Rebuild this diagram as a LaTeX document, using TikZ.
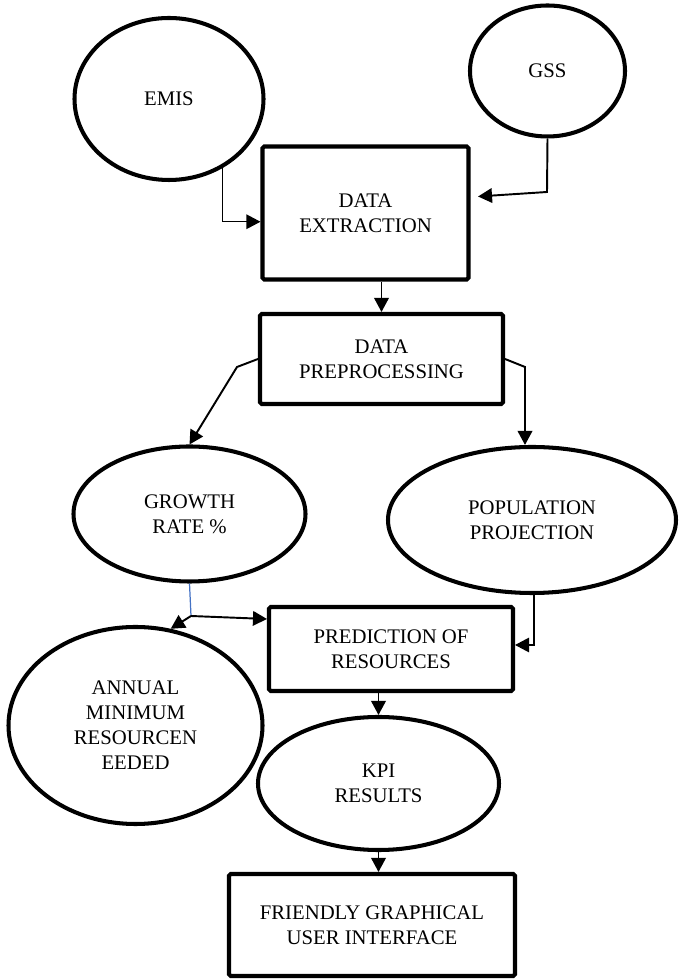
\documentclass[tikz,border=0pt]{standalone}
\usepackage{fontspec}
\setmainfont{Liberation Serif}
\usepackage{tikz}
\usetikzlibrary{arrows.meta, positioning, shapes.geometric}

\definecolor{tapblue}{RGB}{68,114,196}

\begin{document}
\begin{tikzpicture}[
    every node/.style={font=\fontsize{11.8}{14.2}\selectfont},
    procbox/.style={rectangle, draw, line width=2.3pt, rounded corners=1pt, inner sep=0pt, align=center},
    srcoval/.style={ellipse, draw, line width=2.3pt, inner sep=0pt, align=center},
    arrow/.style={-{Triangle[length=2.8mm, width=2.9mm]}, line width=1.1pt},
    tap/.style={draw=tapblue, line width=0.7pt}
]
\useasboundingbox (0,0) rectangle (13.56,19.6);

% ============ SOURCES ============
\node[srcoval, minimum width=3.78cm, minimum height=3.24cm] (emis) at (3.38, 17.62) {EMIS};
\node[srcoval, minimum width=3.10cm, minimum height=2.62cm] (gss) at (10.95, 18.18) {GSS};

% ============ EXTRACTION / PREPROCESSING ============
\node[procbox, minimum width=4.12cm, minimum height=2.66cm] (extract) at (7.31, 15.34) {DATA\\EXTRACTION};
\node[procbox, minimum width=4.86cm, minimum height=1.80cm] (preproc) at (7.63, 12.42) {DATA\\PREPROCESSING};

% ============ INTERMEDIATE RESULTS ============
\node[srcoval, minimum width=4.64cm, minimum height=2.70cm] (growth) at (3.79, 9.32) {GROWTH\\RATE \%};
\node[srcoval, minimum width=5.76cm, minimum height=2.92cm] (popul) at (10.64, 9.20) {POPULATION\\PROJECTION};

% ============ PREDICTION AND OUTPUTS ============
\node[procbox, minimum width=4.88cm, minimum height=1.68cm] (predict) at (7.82, 6.62) {PREDICTION OF\\RESOURCES};
\node[srcoval, minimum width=5.08cm, minimum height=3.94cm] (annual) at (2.71, 5.09) {ANNUAL\\MINIMUM\\RESOURCEN\\EEDED};
\node[srcoval, minimum width=4.82cm, minimum height=2.66cm] (kpi) at (7.57, 3.93) {KPI\\RESULTS};
\node[procbox, minimum width=5.72cm, minimum height=2.04cm] (gui) at (7.44, 1.10) {FRIENDLY GRAPHICAL\\USER INTERFACE};

% bend points
\coordinate (gssbend) at (10.94, 15.76);
\coordinate (lbend) at (4.74, 12.26);
\coordinate (rbend) at (10.50, 12.26);
\coordinate (split) at (3.82, 7.28);

% ============ ARROWS ============
% sources into extraction
\draw[arrow, line width=0.7pt] (emis.-52) |- ([yshift=-1.75mm]extract.west);
\draw[arrow] (gss.south) -- (gssbend) -- ([xshift=1.5mm, yshift=3.3mm]extract.east);
\draw[arrow] (preproc.north |- extract.south) -- (preproc.north);

% preprocessing splits in two
\draw[arrow] (preproc.west) -- (lbend) -- (growth.north);
\draw[arrow] (preproc.east) -- (rbend) -- (rbend |- popul.north);

% growth rate feeds prediction and annual minimum
\draw[tap] (growth.south) -- (split);
\draw[arrow] (split) -- ([yshift=6mm]predict.west);
\draw[arrow] (split) -- (annual.70);
\draw[arrow, line width=0.7pt] ([xshift=0.4mm]popul.south) |- ([yshift=0.8mm]predict.east);

% down to the interface
\draw[arrow] (kpi.north |- predict.south) -- (kpi.north);
\draw[arrow] (kpi.south) -- (kpi.south |- gui.north);

\end{tikzpicture}
\end{document}
